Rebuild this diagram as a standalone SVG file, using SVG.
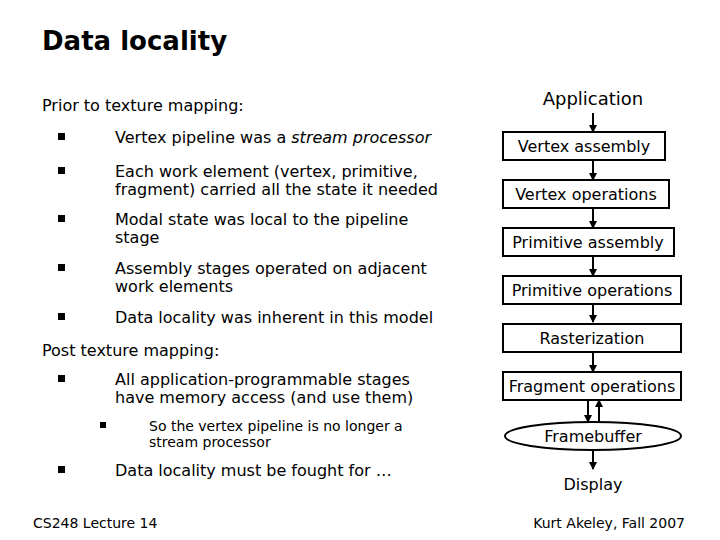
<svg xmlns="http://www.w3.org/2000/svg" width="720" height="540" viewBox="0 0 720 540">
<style>
text{font-family:"DejaVu Sans",sans-serif;fill:#000}
.t{font-size:16px}
.s{font-size:14px}
.b{fill:#000}
.box{fill:#fff;stroke:#000;stroke-width:2}
.n{font-size:16px;text-anchor:middle}
.c{stroke:#000;stroke-width:2;marker-end:url(#a)}
</style>
<defs><marker id="a" markerWidth="8" markerHeight="8" refX="7" refY="4" orient="auto" markerUnits="userSpaceOnUse"><path d="M0,0L8,4L0,8z"/></marker></defs>
<rect width="720" height="540" fill="#fff"/>
<text x="42" y="50" style="font-size:26px;font-weight:bold">Data locality</text>
<text x="42" y="111" class="t">Prior to texture mapping:</text>
<g class="b">
<rect x="58" y="133" width="7" height="7"/><rect x="58" y="167" width="7" height="7"/><rect x="58" y="215" width="7" height="7"/><rect x="58" y="264" width="7" height="7"/><rect x="58" y="313" width="7" height="7"/><rect x="58" y="375" width="7" height="7"/><rect x="100" y="422" width="6" height="6"/><rect x="58" y="466" width="7" height="7"/>
</g>
<text x="115" y="143" class="t">Vertex pipeline was a <tspan font-style="italic">stream processor</tspan></text>
<text x="115" y="177" class="t">Each work element (vertex, primitive,</text>
<text x="115" y="195" class="t">fragment) carried all the state it needed</text>
<text x="115" y="225" class="t">Modal state was local to the pipeline</text>
<text x="115" y="243" class="t">stage</text>
<text x="115" y="274" class="t">Assembly stages operated on adjacent</text>
<text x="115" y="292" class="t">work elements</text>
<text x="115" y="323" class="t">Data locality was inherent in this model</text>
<text x="42" y="356" class="t">Post texture mapping:</text>
<text x="115" y="385" class="t">All application-programmable stages</text>
<text x="115" y="403" class="t">have memory access (and use them)</text>
<text x="149" y="431" class="s">So the vertex pipeline is no longer a</text>
<text x="149" y="447" class="s">stream processor</text>
<text x="115" y="476" class="t">Data locality must be fought for …</text>
<text x="33" y="528" class="s">CS248 Lecture 14</text>
<text x="685" y="528" class="s" text-anchor="end">Kurt Akeley, Fall 2007</text>
<g id="connectors">
<line class="c" x1="593" y1="113" x2="593" y2="132"/>
<line class="c" x1="593" y1="160" x2="593" y2="180"/>
<line class="c" x1="593" y1="208" x2="593" y2="228"/>
<line class="c" x1="593" y1="256" x2="593" y2="276"/>
<line class="c" x1="593" y1="304" x2="593" y2="322"/>
<line class="c" x1="593" y1="352" x2="593" y2="372"/>
<line class="c" x1="588" y1="400" x2="588" y2="422"/>
<line class="c" x1="599" y1="422" x2="599" y2="400"/>
<line class="c" x1="593" y1="450" x2="593" y2="469"/>
</g>
<g id="app"><text class="n" x="593" y="105" style="font-size:18px">Application</text></g>
<g id="va"><rect class="box" x="503" y="132" width="162" height="28"/><text class="n" x="584" y="152">Vertex assembly</text></g>
<g id="vo"><rect class="box" x="503" y="180" width="166" height="28"/><text class="n" x="586" y="200">Vertex operations</text></g>
<g id="pa"><rect class="box" x="503" y="228" width="171" height="28"/><text class="n" x="588" y="248">Primitive assembly</text></g>
<g id="po"><rect class="box" x="503" y="276" width="178" height="28"/><text class="n" x="592" y="296">Primitive operations</text></g>
<g id="ra"><rect class="box" x="503" y="324" width="178" height="28"/><text class="n" x="592" y="344">Rasterization</text></g>
<g id="fo"><rect class="box" x="503" y="372" width="178" height="28"/><text class="n" x="592" y="392">Fragment operations</text></g>
<g id="fb"><ellipse class="box" cx="593" cy="436" rx="88" ry="14"/><text class="n" x="593" y="442">Framebuffer</text></g>
<g id="di"><text class="n" x="593" y="490">Display</text></g>
</svg>
